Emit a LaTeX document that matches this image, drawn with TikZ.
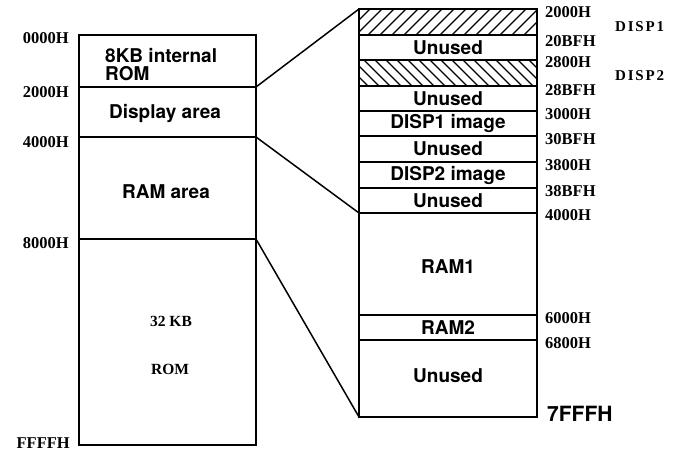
\documentclass[tikz,border=0pt]{standalone}
\usepackage{fontspec}
\setmainfont{Liberation Serif}
\newfontfamily\hvfont{TeX Gyre Heros}
\begin{document}
\begin{tikzpicture}[x=1pt,y=-1pt,
  addr/.style={font=\fontsize{16.5}{16.5}\selectfont\bfseries, inner sep=0pt},
  dispname/.style={font=\fontsize{15}{15}\selectfont\bfseries\addfontfeature{LetterSpace=12}, inner sep=0pt},
  lbl/.style={font=\hvfont\fontsize{19}{19}\selectfont\bfseries, inner sep=0pt},
  romlbl/.style={font=\fontsize{15.5}{15.5}\selectfont\bfseries, inner sep=0pt},
  box/.style={line width=1.8pt},
  conn/.style={line width=1.5pt},
  hatch/.style={line width=1.1pt}]
\useasboundingbox (0,0) rectangle (680,452);
\fill[white] (0,0) rectangle (680,452);
% ---------- left map ----------
\coordinate (LT) at (79,35);
\coordinate (LB) at (256,445);
\coordinate (L2000) at (256,87);
\coordinate (L4000) at (256,137);
\coordinate (L8000) at (256,239);
\draw[box] (LT) rectangle (LB);
\draw[box] (79,87) -- (L2000);
\draw[box] (79,137) -- (L4000);
\draw[box] (79,239) -- (L8000);
\node[lbl, anchor=west, align=left, font=\hvfont\fontsize{19}{18}\selectfont\bfseries] (introm) at (105,64.5) {8KB internal\\ROM};
\node[lbl] (disp) at (165,114) {Display area};
\node[lbl] (ramarea) at (166,192) {RAM area};
\node[romlbl] (kb) at (171,321.5) {32 KB};
\node[romlbl] (rom) at (170,369.5) {ROM};
\node[addr, anchor=east] (a0000) at (69,38.5) {0000H};
\node[addr, anchor=east] (a2000) at (69,92.5) {2000H};
\node[addr, anchor=east] (a4000) at (69,142) {4000H};
\node[addr, anchor=east] (a8000) at (69,243.5) {8000H};
\node[addr, anchor=east] (affff) at (70,443.5) {FFFFH};
% ---------- right map ----------
\coordinate (RT) at (359,9);
\coordinate (RB) at (537,417);
\coordinate (R4000) at (359,213);
\coordinate (RBL) at (359,417);
\begin{scope}
  \clip (359,9) rectangle (537,35);
  \foreach \i in {320,332,...,540} \draw[hatch] (\i,35) -- ++(26,-26);
\end{scope}
\begin{scope}
  \clip (359,60) rectangle (537,86);
  \foreach \i in {320,331,...,540} \draw[hatch] (\i,60) -- ++(26,26);
\end{scope}
\draw[box] (RT) rectangle (RB);
\foreach \y in {35,60,86,111,136,162,188,213,315,340}
  \draw[box] (359,\y) -- (537,\y);
\node[lbl] (u1) at (448,47.5) {Unused};
\node[lbl] (u2) at (448,98.5) {Unused};
\node[lbl] (d1) at (448,123.5) {DISP1 image};
\node[lbl] (u3) at (448,149) {Unused};
\node[lbl] (d2) at (448,175) {DISP2 image};
\node[lbl] (u4) at (448,200.5) {Unused};
\node[lbl] (ram1) at (448,267) {RAM1};
\node[lbl] (ram2) at (448,327.5) {RAM2};
\node[lbl] (u5) at (448,375.5) {Unused};
\node[addr, anchor=west] (b2000) at (545,12) {2000H};
\node[addr, anchor=west] (b20bf) at (545,41) {20BFH};
\node[addr, anchor=west] (b2800) at (545,62.5) {2800H};
\node[addr, anchor=west] (b28bf) at (545,90) {28BFH};
\node[addr, anchor=west] (b3000) at (545,114.5) {3000H};
\node[addr, anchor=west] (b30bf) at (545,139.5) {30BFH};
\node[addr, anchor=west] (b3800) at (545,165) {3800H};
\node[addr, anchor=west] (b38bf) at (545,191) {38BFH};
\node[addr, anchor=west] (b4000) at (545,215) {4000H};
\node[addr, anchor=west] (b6000) at (545,318.5) {6000H};
\node[addr, anchor=west] (b6800) at (545,343) {6800H};
\node[lbl, anchor=west, font=\hvfont\fontsize{21}{21}\selectfont\bfseries] (b7fff) at (547,413.5) {7FFFH};
\node[dispname, anchor=west] (disp1) at (615,27) {DISP1};
\node[dispname, anchor=west] (disp2) at (615,75.5) {DISP2};
% ---------- connectors ----------
\draw[conn] (L2000) -- (RT);
\draw[conn] (L4000) -- (R4000);
\draw[conn] (L8000) -- (RBL);
\end{tikzpicture}
\end{document}
